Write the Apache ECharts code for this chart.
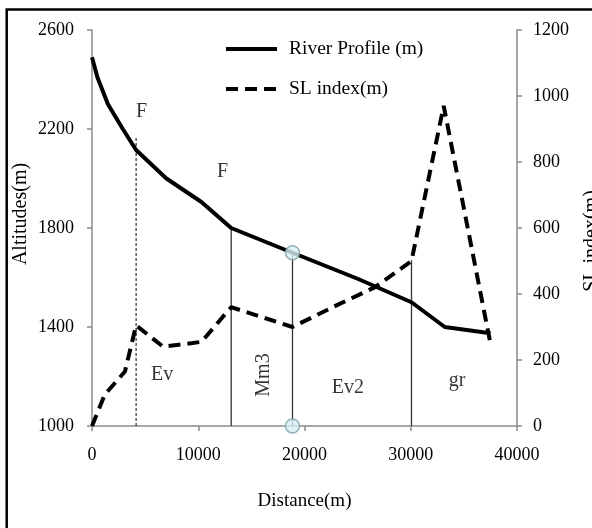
<!DOCTYPE html>
<html><head><meta charset="utf-8">
<script src="https://cdn.jsdelivr.net/npm/echarts@6/dist/echarts.min.js"></script>
<style>html,body{margin:0;padding:0;background:#fff}#c{width:592px;height:528px}</style>
</head><body><div id="c"></div><script>
// River profile: distance (m) vs altitude (m)
const distProfile = [0, 500, 1500, 2900, 4150, 7000, 10300, 13100, 18870, 25000, 30070, 33200, 37500];
const altProfile  = [2490, 2410, 2300, 2200, 2115, 2000, 1905, 1800, 1700, 1595, 1500, 1400, 1375];
// SL index: distance (m) vs SL index (m)
const distSL  = [0, 1200, 3100, 4150, 6700, 10300, 13100, 18870, 23300, 26600, 30070, 33100, 37500];
const slIndex = [0, 95, 165, 305, 240, 255, 360, 300, 370, 420, 500, 970, 250];
// Vertical contact lines
const contactX   = [4150, 13100, 18870, 30070];
const contactTop = [2170, 1800, 1700, 1670];
// Circle markers
const markerX = [18870, 18870];
const markerY = [1700, 1000];
// Annotations
const annText = ['F', 'F', 'Ev', 'Mm3', 'Ev2', 'gr'];
const annX    = [4660, 12280, 6590, 16190, 24090, 34350];
const annY    = [2270, 2029, 1206, 1206, 1154, 1182];
// Axis ticks
const xTicks = [0, 10000, 20000, 30000, 40000];
const yLeftTicks = [1000, 1400, 1800, 2200, 2600];
const yRightTicks = [0, 200, 400, 600, 800, 1000, 1200];

const FONT = "'Liberation Serif', 'Times New Roman', serif";
const axisGray = '#8a8a8a';
const plain = v => String(v);

const chart = echarts.init(document.getElementById('c'), null, {renderer: 'canvas'});

const contactSeries = contactX.map((x, i) => ({
  type: 'line', yAxisIndex: 0, symbol: 'none', silent: true,
  data: [[x, yLeftTicks[0]], [x, contactTop[i]]],
  lineStyle: i === 0 ? {color: '#000', width: 1, type: [3, 2]} : {color: '#333', width: 1.3},
  z: 1
}));

const option = {
  backgroundColor: '#fff',
  animation: false,
  textStyle: {fontFamily: FONT},
  grid: {left: 92, right: 75, top: 30, bottom: 102},
  legend: {
    orient: 'vertical', left: 224, top: 39, padding: 0,
    itemWidth: 51, itemHeight: 20, itemGap: 20,
    data: ['River Profile (m)', 'SL index(m)'],
    itemStyle: {opacity: 0},
    lineStyle: {width: 4},
    textStyle: {fontFamily: FONT, fontSize: 19.5, color: '#000', padding: [0, 0, 0, 7]}
  },
  xAxis: {
    type: 'value', min: xTicks[0], max: xTicks[xTicks.length - 1], interval: 10000,
    axisLine: {show: true, lineStyle: {color: axisGray, width: 1.5}},
    axisTick: {show: true, length: 5, inside: false, lineStyle: {color: axisGray, width: 1.5}},
    axisLabel: {margin: 20, fontFamily: FONT, fontSize: 18, color: '#000', formatter: plain},
    splitLine: {show: false},
    name: 'Distance(m)', nameLocation: 'middle', nameGap: 66,
    nameTextStyle: {fontFamily: FONT, fontSize: 19, color: '#000'}
  },
  yAxis: [{
    type: 'value', min: yLeftTicks[0], max: yLeftTicks[yLeftTicks.length - 1], interval: 400,
    position: 'left',
    axisLine: {show: true, onZero: false, lineStyle: {color: axisGray, width: 1.5}},
    axisTick: {show: true, length: 5, lineStyle: {color: axisGray, width: 1.5}},
    axisLabel: {margin: 18, fontFamily: FONT, fontSize: 18, color: '#000', formatter: plain},
    splitLine: {show: false}
  }, {
    type: 'value', min: yRightTicks[0], max: yRightTicks[yRightTicks.length - 1], interval: 200,
    position: 'right',
    axisLine: {show: true, onZero: false, lineStyle: {color: axisGray, width: 1.5}},
    axisTick: {show: true, length: 5, lineStyle: {color: axisGray, width: 1.5}},
    axisLabel: {margin: 16, fontFamily: FONT, fontSize: 18, color: '#000', formatter: plain},
    splitLine: {show: false}
  }],
  graphic: [
    {type: 'rect', shape: {x: 6.7, y: 9.5, width: 800, height: 800}, style: {fill: 'none', stroke: '#000', lineWidth: 2.5}, silent: true},
    {type: 'text', x: 21, y: 214, rotation: Math.PI / 2,
      style: {text: 'Altitudes(m)', font: "20px " + FONT, fill: '#000', align: 'center', verticalAlign: 'middle'}},
    {type: 'text', x: 592, y: 241, rotation: Math.PI / 2,
      style: {text: 'SL index(m)', font: "20px " + FONT, fill: '#000', align: 'center', verticalAlign: 'middle'}}
  ],
  series: [
    ...contactSeries,
    {
      name: 'River Profile (m)', type: 'line', yAxisIndex: 0, symbol: 'none',
      data: distProfile.map((d, i) => [d, altProfile[i]]),
      lineStyle: {color: '#000', width: 4}, itemStyle: {color: '#000'}, z: 3
    },
    {
      name: 'SL index(m)', type: 'line', yAxisIndex: 1, symbol: 'none',
      data: distSL.map((d, i) => [d, slIndex[i]]),
      lineStyle: {color: '#000', width: 4, type: [12, 7]}, itemStyle: {color: '#000'}, z: 3
    },
    {
      type: 'scatter', yAxisIndex: 0, symbol: 'circle', symbolSize: 14, clip: false,
      data: markerX.map((x, i) => [x, markerY[i]]),
      itemStyle: {color: '#d8eff3', borderColor: '#7d9ea5', borderWidth: 1.5}, z: 5
    },
    {
      type: 'scatter', yAxisIndex: 0, symbolSize: 0, silent: true,
      data: annX.map((x, i) => ({
        value: [x, annY[i]], name: annText[i],
        label: {rotate: annText[i] === 'Mm3' ? 90 : 0}
      })),
      label: {show: true, position: 'inside', formatter: p => p.name, fontFamily: FONT, fontSize: 20, color: '#000'},
      z: 4
    }
  ]
};
chart.setOption(option);
</script></body></html>
